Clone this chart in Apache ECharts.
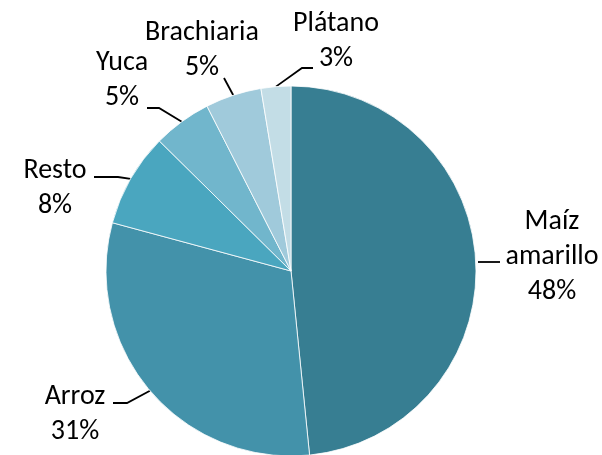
<!DOCTYPE html>
<html>
<head>
<meta charset="utf-8">
<script src="https://cdn.jsdelivr.net/npm/echarts@6/dist/echarts.min.js"></script>
<style>
  html, body { margin: 0; padding: 0; background: #fff; }
  #main { width: 602px; height: 455px; }
</style>
</head>
<body>
<div id="main"></div>
<script>
// datos (porcentaje del area)
var categories = ['Maíz amarillo', 'Arroz', 'Resto', 'Yuca', 'Brachiaria', 'Plátano'];
var values = [48.4, 30.8, 8.2, 5.1, 4.9, 2.6];
var colors = ['#377e92', '#4392aa', '#4aa6bf', '#71b6cc', '#a0cadb', '#c3dde6'];

// posicion de las etiquetas (centro del bloque) y quiebres de las lineas guia
var labelPos = [[552, 257], [75, 414], [55, 188], [122, 80], [202, 50], [336, 41]];
var labelLines = [
  { from: [478, 262], pts: [[500, 262]] },
  { pts: [[127, 403], [113, 403]] },
  { pts: [[118, 177], [94, 177]] },
  { pts: [[159, 108], [147, 108]] },
  { pts: [[224, 78]] },
  { pts: [[302, 68], [313, 68]] }
];

var myChart = echarts.init(document.getElementById('main'));

myChart.setOption({
  backgroundColor: '#fff',
  animation: false,
  series: [{
    type: 'pie',
    center: [291, 271],
    radius: 185,
    startAngle: 90,
    clockwise: true,
    avoidLabelOverlap: false,
    data: categories.map(function (c, i) {
      return { name: c, value: values[i], itemStyle: { color: colors[i] } };
    }),
    itemStyle: { borderColor: '#fff', borderWidth: 0.8 },
    label: {
      show: true,
      position: 'outside',
      color: '#000',
      fontFamily: 'Carlito, Lato, sans-serif',
      fontSize: 28,
      lineHeight: 35,
      formatter: function (p) {
        return p.name.replace(' ', '\n') + '\n' + Math.round(p.value) + '%';
      }
    },
    labelLine: {
      show: true,
      lineStyle: { color: '#000', width: 1.8 }
    },
    labelLayout: function (p) {
      var pos = labelPos[p.dataIndex];
      var ln = labelLines[p.dataIndex];
      var start = ln.from || p.labelLinePoints[0];
      return {
        x: pos[0],
        y: pos[1],
        align: 'center',
        verticalAlign: 'middle',
        labelLinePoints: [start].concat(ln.pts)
      };
    }
  }]
});
</script>
</body>
</html>
